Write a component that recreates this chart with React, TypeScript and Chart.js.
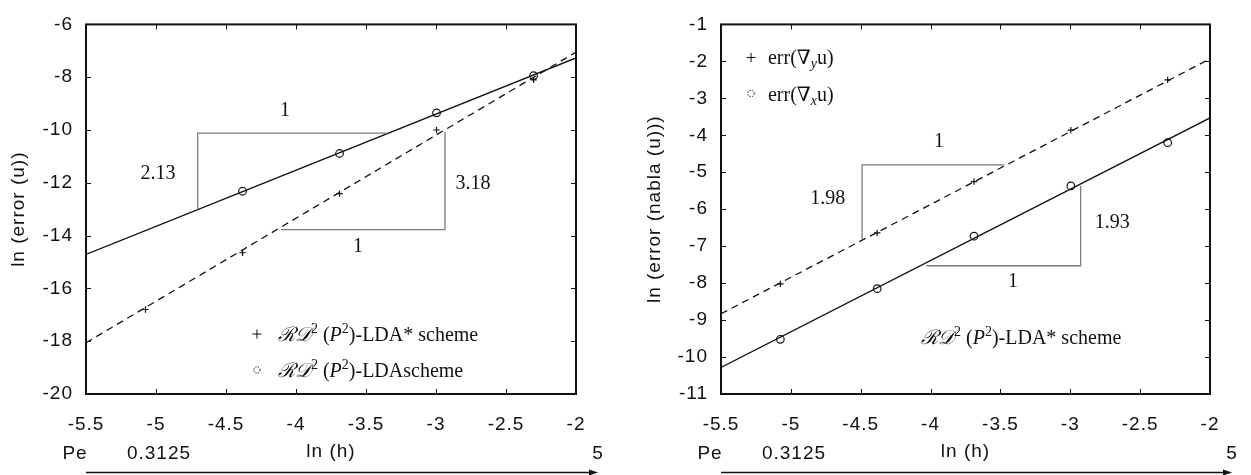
import React, { useEffect, useRef } from "react";
import { Chart, registerables } from "chart.js";

Chart.register(...registerables);

// ---------------- data ----------------
const lnH = [-5.075, -4.382, -3.689, -2.996, -2.303];
const lnHFit = [-5.5, -2.0];

// left panel: ln(error(u))
const errUStar = [-16.8, -14.65, -12.41, -10.0, -8.1];
const errULda = [null, -12.32, -10.89, -9.35, -7.94];
const fitUStar = [-18.06, -7.05];
const fitULda = [-14.71, -7.27];
const slopeU1X = [-4.702, -4.702, -3.352];
const slopeU1Y = [-13.0, -10.12, -10.12];
const slopeU2X = [-4.107, -2.936, -2.936];
const slopeU2Y = [-13.77, -13.77, -10.08];
const slopeTextsU = ["1", "2.13", "3.18", "1"];

// right panel: ln(error(nabla u))
const errGradY = [-8.02, -6.64, -5.255, -3.86, -2.5];
const errGradX = [-9.52, -8.15, -6.73, -5.37, -4.2];
const fitGradY = [-8.83, -1.93];
const fitGradX = [-10.28, -3.53];
const slopeG1X = [-4.49, -4.49, -3.472];
const slopeG1Y = [-6.82, -4.8, -4.8];
const slopeG2X = [-4.03, -2.926, -2.926];
const slopeG2Y = [-7.53, -7.53, -5.37];
const slopeTextsG = ["1", "1.98", "1.93", "1"];

const xTicks = [-5.5, -5, -4.5, -4, -3.5, -3, -2.5, -2];
const yTicksU = [-20, -18, -16, -14, -12, -10, -8, -6];
const yTicksG = [-11, -10, -9, -8, -7, -6, -5, -4, -3, -2, -1];
const peRow = ["Pe", "0.3125", "5"];

// ---------------- styling ----------------
const SANS = "'Liberation Sans', Arial, Helvetica, sans-serif";
const SERIF = "'Liberation Serif', 'Times New Roman', 'DejaVu Serif', serif";
const INK = "#111";
const GREY = "#7a7a7a";
const W = 1251;
const H = 475;
const SPACING = "1px";

const zip = (xs: number[], ys: (number | null)[]) =>
  xs.map((x, i) => ({ x, y: ys[i] })).filter((p) => p.y !== null) as { x: number; y: number }[];

type Seg = { t: string; f: string; dy?: number };

const RD = "\u211B\u{1D49F}";
const schemeSegs = (tail: string): Seg[] => [
  { t: RD, f: `italic 20px ${SERIF}` },
  { t: "2", f: `14px ${SERIF}`, dy: -8 },
  { t: " (", f: `20px ${SERIF}` },
  { t: "P", f: `italic 20px ${SERIF}` },
  { t: "2", f: `14px ${SERIF}`, dy: -8 },
  { t: tail, f: `20px ${SERIF}` },
];
const errSegs = (sub: string): Seg[] => [
  { t: "err(\u2207", f: `20px ${SERIF}` },
  { t: sub, f: `italic 14px ${SERIF}`, dy: 4 },
  { t: "u)", f: `20px ${SERIF}` },
];

function drawRich(ctx: CanvasRenderingContext2D, x: number, cy: number, segs: Seg[]) {
  ctx.textAlign = "left";
  ctx.textBaseline = "alphabetic";
  let cx = x;
  const base = cy + 7;
  for (const s of segs) {
    ctx.font = s.f;
    ctx.fillText(s.t, cx, base + (s.dy || 0));
    cx += ctx.measureText(s.t).width;
  }
}

type LegendItem = { sym: "plus" | "circle" | "none"; x: number; y: number; tx: number; segs: Seg[] };
type SlopeLabel = { t: string; x: number; y: number };

const decor = {
  id: "decor",
  beforeDraw(chart: any) {
    (chart.ctx as any).letterSpacing = SPACING;
  },
  afterDraw(chart: any, _args: any, opts: any) {
    const ctx: CanvasRenderingContext2D = chart.ctx;
    const { left, right, top, bottom } = chart.chartArea;
    const xs = chart.scales.x;
    const ys = chart.scales.y;
    ctx.save();
    (ctx as any).letterSpacing = "0px";
    ctx.fillStyle = INK;
    ctx.strokeStyle = INK;

    // slope labels
    ctx.font = `20px ${SERIF}`;
    ctx.textAlign = "center";
    ctx.textBaseline = "middle";
    (opts.slopes as SlopeLabel[]).forEach((s) => {
      ctx.fillText(s.t, xs.getPixelForValue(s.x), ys.getPixelForValue(s.y));
    });

    // legend / annotations
    (opts.legend as LegendItem[]).forEach((it) => {
      const px = xs.getPixelForValue(it.x);
      const py = ys.getPixelForValue(it.y);
      ctx.lineWidth = 1;
      if (it.sym === "plus") {
        ctx.beginPath();
        ctx.moveTo(px - 4.5, py);
        ctx.lineTo(px + 4.5, py);
        ctx.moveTo(px, py - 4.5);
        ctx.lineTo(px, py + 4.5);
        ctx.stroke();
      } else if (it.sym === "circle") {
        ctx.setLineDash([1.3, 1.3]);
        ctx.beginPath();
        ctx.arc(px, py, 3.2, 0, Math.PI * 2);
        ctx.stroke();
        ctx.setLineDash([]);
      }
      drawRich(ctx, xs.getPixelForValue(it.tx), py, it.segs);
    });

    // frame with inward ticks
    ctx.lineWidth = 1;
    ctx.beginPath();
    xs.ticks.forEach((t: any) => {
      const px = Math.round(xs.getPixelForValue(t.value)) + 0.5;
      ctx.moveTo(px, bottom);
      ctx.lineTo(px, bottom - 5);
      ctx.moveTo(px, top);
      ctx.lineTo(px, top + 5);
    });
    ys.ticks.forEach((t: any) => {
      const py = Math.round(ys.getPixelForValue(t.value)) + 0.5;
      ctx.moveTo(left, py);
      ctx.lineTo(left + 5, py);
      ctx.moveTo(right, py);
      ctx.lineTo(right - 5, py);
    });
    ctx.stroke();
    ctx.lineWidth = 2;
    ctx.strokeRect(left, top, right - left, bottom - top);

    // Pe row and arrow
    (ctx as any).letterSpacing = SPACING;
    ctx.font = `19px ${SANS}`;
    ctx.textAlign = "center";
    ctx.textBaseline = "middle";
    const peX = [left - 11, left + 73, right + 22];
    peRow.forEach((t, i) => ctx.fillText(t, peX[i], 454));
    const ay = 472.5;
    const tip = right + 22;
    ctx.lineWidth = 1.3;
    ctx.beginPath();
    ctx.moveTo(left, ay);
    ctx.lineTo(tip - 6, ay);
    ctx.stroke();
    ctx.beginPath();
    ctx.moveTo(tip, ay);
    ctx.lineTo(tip - 9, ay - 3);
    ctx.lineTo(tip - 9, ay + 3);
    ctx.closePath();
    ctx.fill();
    ctx.restore();
  },
};

type Panel = {
  yMin: number;
  yMax: number;
  yTicks: number[];
  yTitle: string;
  axisWidth: number;
  padRight: number;
  titlePad: number;
  datasets: any[];
  slopes: SlopeLabel[];
  legend: LegendItem[];
};

function fitLine(ys: number[], dashed: boolean) {
  return {
    data: zip(lnHFit, ys),
    showLine: true,
    borderColor: INK,
    borderWidth: 1.3,
    borderDash: dashed ? [7, 5] : [],
    pointRadius: 0,
    fill: false,
  };
}
function marks(ys: (number | null)[], style: "circle" | "cross") {
  return {
    data: zip(lnH, ys),
    showLine: false,
    pointStyle: style,
    pointRadius: style === "circle" ? 3.8 : 3.2,
    pointBorderColor: INK,
    pointBackgroundColor: "rgba(0,0,0,0)",
    pointBorderWidth: 1.2,
  };
}
function slopeTri(xs: number[], ys: number[]) {
  return {
    data: zip(xs, ys),
    showLine: true,
    borderColor: GREY,
    borderWidth: 1.3,
    pointRadius: 0,
    tension: 0,
    fill: false,
  };
}

function buildConfig(p: Panel): any {
  const tickFont = { family: SANS, size: 19 };
  return {
    type: "scatter",
    data: { datasets: p.datasets },
    plugins: [decor],
    options: {
      responsive: false,
      animation: false,
      devicePixelRatio: 1,
      layout: { padding: { left: 0, right: p.padRight, top: 13, bottom: 0 } },
      plugins: {
        legend: { display: false },
        tooltip: { enabled: false },
        decor: { slopes: p.slopes, legend: p.legend },
      },
      scales: {
        x: {
          type: "linear",
          min: -5.5,
          max: -2,
          afterBuildTicks: (s: any) => {
            s.ticks = xTicks.map((value) => ({ value }));
          },
          afterFit: (s: any) => {
            s.height = 81;
          },
          grid: { display: false, drawTicks: false },
          border: { display: false },
          ticks: {
            font: tickFont,
            color: INK,
            padding: 19,
            maxRotation: 0,
            autoSkip: false,
            callback: (v: any) => String(v),
          },
          title: {
            display: true,
            text: "ln (h)",
            font: tickFont,
            color: INK,
            padding: { top: 0, bottom: 12 },
          },
        },
        y: {
          type: "linear",
          min: p.yMin,
          max: p.yMax,
          afterBuildTicks: (s: any) => {
            s.ticks = p.yTicks.map((value) => ({ value }));
          },
          afterFit: (s: any) => {
            s.width = p.axisWidth;
          },
          grid: { display: false, drawTicks: false },
          border: { display: false },
          ticks: {
            font: tickFont,
            color: INK,
            padding: 13,
            autoSkip: false,
            callback: (v: any) => String(v),
          },
          title: {
            display: true,
            text: p.yTitle,
            font: tickFont,
            color: INK,
            padding: { top: p.titlePad, bottom: 0 },
          },
        },
      },
    },
  };
}

const leftPanel: Panel = {
  yMin: -20,
  yMax: -6,
  yTicks: yTicksU,
  yTitle: "ln (error (u))",
  axisWidth: 86,
  padRight: 49,
  titlePad: 7,
  datasets: [
    slopeTri(slopeU1X, slopeU1Y),
    slopeTri(slopeU2X, slopeU2Y),
    fitLine(fitULda, false),
    fitLine(fitUStar, true),
    marks(errULda, "circle"),
    marks(errUStar, "cross"),
  ],
  slopes: [
    { t: slopeTextsU[0], x: -4.079, y: -9.27 },
    { t: slopeTextsU[1], x: -4.986, y: -11.66 },
    { t: slopeTextsU[2], x: -2.736, y: -12.03 },
    { t: slopeTextsU[3], x: -3.557, y: -14.42 },
  ],
  legend: [
    { sym: "plus", x: -4.279, y: -17.73, tx: -4.129, segs: schemeSegs(")-LDA* scheme") },
    { sym: "circle", x: -4.279, y: -19.09, tx: -4.129, segs: schemeSegs(")-LDAscheme") },
  ],
};

const rightPanel: Panel = {
  yMin: -11,
  yMax: -1,
  yTicks: yTicksG,
  yTitle: "ln (error (nabla (u)))",
  axisWidth: 96,
  padRight: 41,
  titlePad: 18,
  datasets: [
    slopeTri(slopeG1X, slopeG1Y),
    slopeTri(slopeG2X, slopeG2Y),
    fitLine(fitGradX, false),
    fitLine(fitGradY, true),
    marks(errGradX, "circle"),
    marks(errGradY, "cross"),
  ],
  slopes: [
    { t: slopeTextsG[0], x: -3.94, y: -4.18 },
    { t: slopeTextsG[1], x: -4.736, y: -5.71 },
    { t: slopeTextsG[2], x: -2.7, y: -6.37 },
    { t: slopeTextsG[3], x: -3.41, y: -7.95 },
  ],
  legend: [
    { sym: "plus", x: -5.285, y: -1.895, tx: -5.164, segs: errSegs("y") },
    { sym: "circle", x: -5.285, y: -2.87, tx: -5.164, segs: errSegs("x") },
    { sym: "none", x: -4.068, y: -9.47, tx: -4.068, segs: schemeSegs(")-LDA* scheme") },
  ],
};

function PanelChart({ panel, left, width }: { panel: Panel; left: number; width: number }) {
  const ref = useRef<HTMLCanvasElement | null>(null);
  useEffect(() => {
    if (!ref.current) return;
    const chart = new Chart(ref.current, buildConfig(panel));
    return () => chart.destroy();
  }, [panel]);
  return (
    <canvas
      ref={ref}
      width={width}
      height={H}
      style={{ position: "absolute", left, top: 0, width, height: H, display: "block" }}
    />
  );
}

export default function App() {
  return (
    <div style={{ position: "absolute", left: 0, top: 0, width: W, height: H, background: "#fff" }}>
      <PanelChart panel={leftPanel} left={0} width={625} />
      <PanelChart panel={rightPanel} left={625} width={626} />
    </div>
  );
}
